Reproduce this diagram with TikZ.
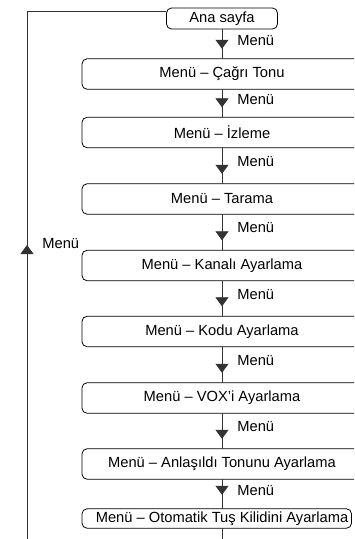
\documentclass[tikz,border=0pt]{standalone}
\usepackage{fontspec}
\setmainfont{Liberation Sans}
\usetikzlibrary{arrows.meta,decorations.markings}

\tikzset{
  txt/.style={font=\fontsize{14.7}{17}\selectfont, inner sep=0pt},
  home/.style={txt, draw, line width=0.8pt, rounded corners=5pt,
    minimum width=111pt, minimum height=21pt},
  item/.style={txt, minimum height=30pt},
  frame/.style={line width=0.8pt, rounded corners=5pt},
  line/.style={line width=0.8pt, black!80},
  flow/.style={line, postaction=decorate, decoration={markings,
    mark=at position #1 with {\arrow{Triangle[width=13pt,length=9pt]}}}},
  lbl/.style={txt, text=black, anchor=west, xshift=15pt}
}

\begin{document}
\begin{tikzpicture}[x=1pt,y=-1pt]
    \useasboundingbox (0,0) rectangle (354,539);
    \clip (0,0) rectangle (354,539);
    \def\cx{222}
    \coordinate (lft) at (82,0);
    \coordinate (rgt) at (370,0);
    \coordinate (rgtlast) at (351.5,0);
    \node[home] (ana) at (\cx,18.5) {Ana sayfa};
    \node[item] (b1) at (\cx,74) {Menü – Çağrı Tonu};
    \node[item] (b2) at (\cx,132.5) {Menü – İzleme};
    \node[item] (b3) at (\cx,199) {Menü – Tarama};
    \node[item] (b4) at (\cx,265.5) {Menü – Kanalı Ayarlama};
    \node[item] (b5) at (\cx,331.5) {Menü – Kodu Ayarlama};
    \node[item] (b6) at (\cx,398) {Menü – VOX'i Ayarlama};
    \node[item] (b7) at (\cx,464) {Menü – Anlaşıldı Tonunu Ayarlama};
    \node[item, minimum height=19pt] (b8) at (\cx,518.5) {Menü – Otomatik Tuş Kilidini Ayarlama};
    % frames
    \draw[frame] (b1.north -| lft) rectangle (b1.south -| rgt);
    \draw[frame] (b2.north -| lft) rectangle (b2.south -| rgt);
    \draw[frame] (b3.north -| lft) rectangle (b3.south -| rgt);
    \draw[frame] (b4.north -| lft) rectangle (b4.south -| rgt);
    \draw[frame] (b5.north -| lft) rectangle (b5.south -| rgt);
    \draw[frame] (b6.north -| lft) rectangle (b6.south -| rgt);
    \draw[frame] (b7.north -| lft) rectangle (b7.south -| rgt);
    \draw[frame] (b8.north -| lft) rectangle (b8.south -| rgtlast);
    % menu steps
    \draw[flow=-10pt] (ana.south) -- node[lbl,pos=0.38] (m1) {Menü} (b1.north);
    \draw[flow=-10pt] (b1.south) -- node[lbl,pos=0.38] (m2) {Menü} (b2.north);
    \draw[flow=-10pt] (b2.south) -- node[lbl,pos=0.38] (m3) {Menü} (b3.north);
    \draw[flow=-10pt] (b3.south) -- node[lbl,pos=0.38] (m4) {Menü} (b4.north);
    \draw[flow=-10pt] (b4.south) -- node[lbl,pos=0.38] (m5) {Menü} (b5.north);
    \draw[flow=-10pt] (b5.south) -- node[lbl,pos=0.38] (m6) {Menü} (b6.north);
    \draw[flow=-10pt] (b6.south) -- node[lbl,pos=0.38] (m7) {Menü} (b7.north);
    \draw[flow=-14pt] (b7.south) -- node[lbl,pos=0.38] (m8) {Menü} (b8.north);
    \coordinate (bot) at (\cx,539);
    \draw[line] (b8.south) -- (bot);
    % back to home
    \coordinate (lp1) at (27,539);
    \coordinate (lp2) at (27,11);
    \draw[flow=294pt] (lp1) -- node[lbl,pos=0.56] (m0) {Menü} (lp2) -- (lp2 -| ana.west);
\end{tikzpicture}
\end{document}
